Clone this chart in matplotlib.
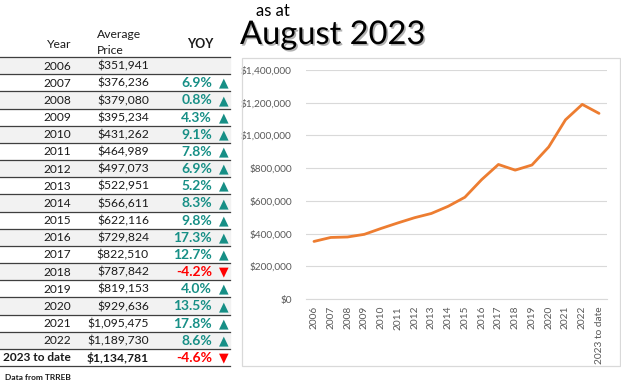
import matplotlib.pyplot as plt
import matplotlib.patheffects as pe
from matplotlib.patches import Rectangle
from matplotlib.ticker import FuncFormatter

years = ['2006', '2007', '2008', '2009', '2010', '2011', '2012', '2013', '2014',
         '2015', '2016', '2017', '2018', '2019', '2020', '2021', '2022', '2023 to date']
prices = [351941, 376236, 379080, 395234, 431262, 464989, 497073, 522951, 566611,
          622116, 729824, 822510, 787842, 819153, 929636, 1095475, 1189730, 1134781]
yoy = [None, 6.9, 0.8, 4.3, 9.1, 7.8, 6.9, 5.2, 8.3, 9.8, 17.3, 12.7, -4.2, 4.0,
       13.5, 17.8, 8.6, -4.6]

W, H = 621, 384
plt.rcParams['font.family'] = ['Lato', 'DejaVu Sans']
fig = plt.figure(figsize=(W / 100, H / 100), dpi=100)
fig.patch.set_facecolor('white')


def fx(x):
    return x / W


def fy(y):
    return 1 - y / H


teal = '#178F86'
red = '#FF0000'
txt = '#1A1A1A'

# table
top, rh = 57.0, 17.17
for i, yr in enumerate(years):
    y0 = top + i * rh
    if i % 2 == 0:
        fig.patches.append(Rectangle((fx(0), fy(y0 + rh)), fx(230), rh / H,
                                     transform=fig.transFigure, color='#F2F2F2', zorder=0))
    yc = fy(y0 + rh / 2 + 0.5)
    bold = 'bold' if i == len(years) - 1 else 'normal'
    fig.text(fx(71), yc, yr, ha='right', va='center', fontsize=8.6, color=txt, weight=bold)
    fig.text(fx(149), yc, '${:,}'.format(prices[i]), ha='right', va='center',
             fontsize=8.7, color=txt, weight=bold)
    if yoy[i] is not None:
        c = teal if yoy[i] >= 0 else red
        fig.text(fx(212), yc, '{:.1f}%'.format(yoy[i]), ha='right', va='center',
                 fontsize=10, color=c, weight='bold')
        fig.text(fx(224), yc, '▲' if yoy[i] >= 0 else '▼', ha='center', va='center',
                 fontsize=9, color=c, family='DejaVu Sans')
for i in range(len(years) + 1):
    yl = fy(top + i * rh)
    fig.add_artist(plt.Line2D([0, fx(230)], [yl, yl], color='#3F3F3F', lw=0.9))

fig.text(fx(71), fy(44), 'Year', ha='right', va='center', fontsize=8.7, color=txt)
fig.text(fx(97), fy(35), 'Average', ha='left', va='center', fontsize=8.7, color=txt)
fig.text(fx(97), fy(51), 'Price', ha='left', va='center', fontsize=8.7, color=txt)
fig.text(fx(200), fy(44), 'YOY', ha='center', va='center', fontsize=9, color=txt,
         weight='bold')
fig.text(fx(5), fy(378), 'Data from TRREB', ha='left', va='center', fontsize=6,
         color=txt, weight='bold')

# title
fig.text(fx(256), fy(11), 'as at', ha='left', va='center', fontsize=12, color='black')
fig.text(fx(240), fy(35), 'August 2023', ha='left', va='center', fontsize=23.5,
         color='black',
         path_effects=[pe.SimplePatchShadow(offset=(1.2, -1.2), alpha=0.3), pe.Normal()])

# chart frame
fig.patches.append(Rectangle((fx(241.5), fy(365.5)), fx(620 - 241.5), (365.5 - 57.5) / H,
                             transform=fig.transFigure, fill=False, ec='#D9D9D9', lw=0.9))

ax = fig.add_axes([fx(305.6), fy(299), fx(607.4 - 305.6), (299 - 70) / H])
x = list(range(len(years)))
ax.plot(x, prices, color='#ED7D31', lw=2.0, solid_capstyle='round')
ax.set_xlim(-0.5, len(years) - 0.5)
ax.set_ylim(0, 1400000)
ax.set_yticks(range(0, 1400001, 200000))
ax.yaxis.set_major_formatter(FuncFormatter(lambda v, p: '${:,.0f}'.format(v)))
ax.set_xticks(x)
ax.set_xticklabels(years, rotation=90)
ax.grid(axis='y', color='#D9D9D9', lw=0.8)
ax.set_axisbelow(True)
for s in ['top', 'right', 'left']:
    ax.spines[s].set_visible(False)
ax.spines['bottom'].set_color('#D9D9D9')
ax.tick_params(length=0, labelsize=7.3, labelcolor='#595959', pad=5)
ax.tick_params(axis='y', pad=10)

fig.savefig('out.png', dpi=100)
